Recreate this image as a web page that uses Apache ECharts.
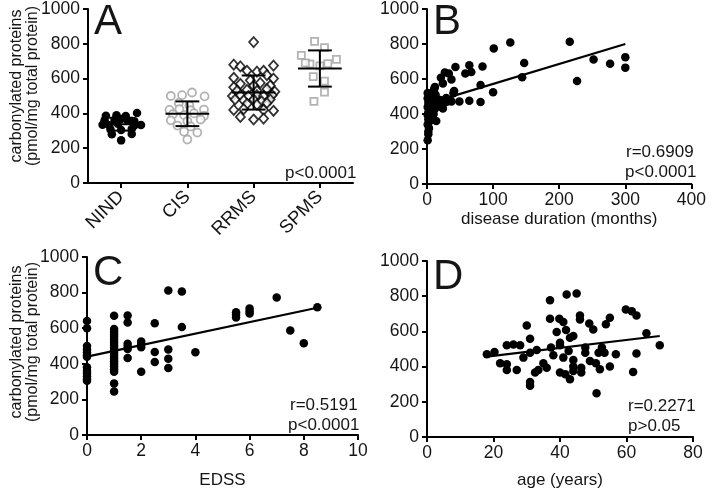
<!DOCTYPE html>
<html>
<head>
<meta charset="utf-8">
<script src="https://cdn.jsdelivr.net/npm/echarts@6/dist/echarts.min.js"></script>
<style>html,body{margin:0;padding:0;background:#fff}#c{width:709px;height:490px}</style>
</head>
<body>
<div id="c"></div>
<script>
// ---------- Panel A: groups (jitter offset in category units, value) ----------
var categoriesA = ['NIND', 'CIS', 'RRMS', 'SPMS'];
var nind = [[-0.23,387],[-0.07,390],[0.07,385],[0.24,402],[-0.25,360],[-0.1,362],[0,368],[0.1,358],[0.2,355],
  [-0.28,335],[-0.18,332],[0.2,330],[0.3,334],[-0.05,340],[-0.16,308],[0,305],[0.16,310],[-0.14,280],[0.16,282],[0,245]];
var cis = [[-0.25,500],[-0.08,505],[0.07,520],[0.26,498],[-0.13,460],[0.03,445],[-0.27,420],[-0.12,425],[0.05,418],[0.25,422],
  [-0.22,395],[-0.05,390],[0.1,400],[0.25,385],[-0.25,360],[0,355],[0.2,365],[-0.15,330],[0.05,325],[-0.05,295],[0.15,290],[0,250]];
var rrms = [[0,810],[-0.3,680],[-0.2,670],[-0.1,645],[0.05,640],[0.15,645],[0.3,675],[-0.3,605],[0.2,620],[0.3,600],[-0.05,590],
  [-0.2,570],[0.1,575],[0.25,560],[-0.3,550],[0,560],[-0.25,530],[-0.1,535],[0.05,530],[0.2,540],[0.32,525],
  [-0.32,500],[-0.2,505],[-0.08,500],[0.05,505],[0.15,500],[0.28,505],[-0.28,480],[-0.15,475],[0,480],[0.12,470],[0.25,480],
  [-0.1,455],[0.05,450],[0.2,460],[-0.3,420],[-0.15,425],[0.15,420],[0.3,415],[-0.2,380],[0,365],[0.15,370]];
var spms = [[-0.08,814],[0.07,778],[-0.28,734],[0.25,711],[-0.15,684],[0,673],[0.12,686],[-0.1,611],[0.07,586],[0.07,522],[-0.09,469],[-0.22,690]];
var groupMeans = [338, 398, 520, 658];
var groupSD = [37, 71, 98, 104];
var pTextA = 'p<0.0001';

// ---------- Panel B: disease duration (months) vs carbonylated proteins ----------
var bPoints = [[1,250],[2,285],[2,300],[3,320],[1,340],[3,355],[2,370],[4,380],[1,395],[5,400],[2,410],[6,420],[3,430],[1,440],
  [7,445],[4,455],[2,465],[8,470],[5,480],[1,490],[3,500],[6,505],[1,520],[9,515],[10,530],[12,555],[11,545],[13,510],[14,490],
  [14,360],[8,380],[10,400],[12,430],[15,470],[17,463],[18,445],[20,480],[24,431],[24,575],[21,607],[27,637],[33,631],[37,597],
  [43,669],[41,532],[29,491],[37,472],[49,472],[64,476],[58,631],[64,678],[67,640],[81,566],[81,468],[84,672],[100,524],[101,775],
  [126,809],[144,610],[147,691],[216,813],[227,588],[252,712],[277,687],[300,725],[300,665],[30,470],[35,480],[40,519],[12,470],
  [16,450],[25,460]];
var bLine = [[0,458],[300,800]];
var statsB = ['r=0.6909', 'p<0.0001'];

// ---------- Panel C: EDSS ----------
var cPoints = [[0,640],[0,600],[0,500],[0,480],[0,465],[0,450],[0,440],[0,380],[0,360],[0,345],[0,330],[0,315],[0,305],
  [1,670],[1,595],[1,580],[1,565],[1,550],[1,535],[1,520],[1,505],[1,490],[1,475],[1,460],[1,445],[1,430],[1,415],[1,400],[1,385],
  [1,370],[1,355],[1,290],[1,245],
  [1.5,672],[1.5,632],[1.5,512],[1.5,496],[1.5,483],[1.5,432],
  [2,525],[2,510],[2,493],[2,355],[2.5,628],[2.5,466],[2.5,410],[3,812],[3,480],[3,428],[3,377],[3.5,806],[3.5,607],[4,465],
  [5.5,690],[5.5,675],[5.5,660],[6,710],[6,695],[6,683],[7,772],[7.5,587],[8,515],[8.5,718]];
var cLine = [[0,440],[8.5,715]];
var statsC = ['r=0.5191', 'p<0.0001'];

// ---------- Panel D: age (years) ----------
var dPoints = [[18,470],[20.3,483],[22,419],[24,413],[24,381],[24,521],[26,526],[28,521],[27,381],[29,451],[30,634],[31,558],
  [31,479],[31,313],[31,291],[33,494],[32.5,366],[33.5,381],[35,419],[36,394],[37,777],[37,672],[37.3,508],[38,464],[39,596],
  [39.8,672],[40,536],[40,521],[40,366],[41,653],[41,451],[41.6,357],[41.8,608],[42,809],[43,564],[44,574],[42.6,489],[43,328],
  [44,438],[44,400],[44,375],[45,815],[46,690],[46,668],[46.4,394],[46.4,366],[47.6,508],[47.6,479],[48.8,645],[49,432],[50,611],
  [50.8,419],[51,249],[51.6,479],[52,385],[52.6,508],[53.4,479],[53.8,640],[55,677],[55,400],[56.8,470],[59.8,725],[61.6,715],
  [63,690],[62,370],[63,475],[66,589],[70,521]];
var dLine = [[18,457],[70,574]];
var statsD = ['r=0.2271', 'p>0.05'];

var yTicks = {min: 0, max: 1000, interval: 200};
var yName = 'carbonylated proteins\n(pmol/mg total protein)';

// ---------- build ----------
var FONT = '"Liberation Sans", Arial, sans-serif';
var TXT = '#151515';
function withGroup(arr, gi) { return arr.map(function (p) { return [gi + 1 + p[0], p[1]]; }); }
var axisLine = {show: true, onZero: false, lineStyle: {color: '#000', width: 2}};
var axisTick = {show: true, length: 5, lineStyle: {color: '#000', width: 2}};
function plain(v) { return String(v); }
function yAx(grid) {
  return {type: 'value', gridIndex: grid, min: yTicks.min, max: yTicks.max, interval: yTicks.interval,
    splitLine: {show: false}, axisLine: axisLine, axisTick: axisTick,
    axisLabel: {fontSize: 17.5, color: TXT, fontFamily: FONT, margin: 8, formatter: plain}};
}
function xVal(grid, max, interval, name, gap) {
  return {type: 'value', gridIndex: grid, min: 0, max: max, interval: interval, splitLine: {show: false},
    axisLine: axisLine, axisTick: axisTick, name: name, nameLocation: 'middle', nameGap: gap,
    nameTextStyle: {fontSize: 17, color: TXT, fontFamily: FONT},
    axisLabel: {fontSize: 17.5, color: TXT, fontFamily: FONT, margin: 7, formatter: plain}};
}
function scat(data, xi, yi, extra) {
  var s = {type: 'scatter', data: data, xAxisIndex: xi, yAxisIndex: yi, symbol: 'circle', symbolSize: 8.5,
    itemStyle: {color: '#000', opacity: 1}, silent: true, z: 2};
  for (var k in extra) s[k] = extra[k];
  return s;
}
function regLine(data, xi, yi) {
  return {type: 'line', data: data, xAxisIndex: xi, yAxisIndex: yi, symbol: 'none',
    lineStyle: {color: '#000', width: 2.2}, silent: true, z: 3};
}
var errData = groupMeans.map(function (m, i) { return [i + 1, m, groupSD[i]]; });

function txt(x, y, s, size, align) {
  return {type: 'text', x: x, y: y, silent: true,
    style: {text: s, fontSize: size, fontFamily: FONT, fill: TXT, textAlign: align || 'left', textVerticalAlign: 'middle'}};
}

var option = {
  animation: false,
  backgroundColor: '#fff',
  grid: [
    {left: 88, right: 356, top: 7, bottom: 307},
    {left: 427, right: 14, top: 6, bottom: 306},
    {left: 87, right: 351, top: 257, bottom: 52},
    {left: 427, right: 16, top: 261, bottom: 52}
  ],
  xAxis: [
    {type: 'category', gridIndex: 0, data: categoriesA, boundaryGap: true, axisLine: axisLine,
      axisTick: {show: true, length: 5, alignWithLabel: true, lineStyle: {color: '#000', width: 2}},
      axisLabel: {rotate: 45, fontSize: 18.5, color: TXT, fontFamily: FONT, margin: 11}},
    {type: 'value', gridIndex: 0, min: 0.5, max: 4.5, show: false},
    xVal(1, 400, 100, 'disease duration (months)', 27),
    xVal(2, 10, 2, 'EDSS', 37),
    xVal(3, 80, 20, 'age (years)', 35)
  ],
  yAxis: [yAx(0), yAx(1), yAx(2), yAx(3)],
  series: [
    scat(withGroup(nind, 0), 1, 0, {}),
    scat(withGroup(cis, 1), 1, 0, {itemStyle: {color: '#fff', borderColor: '#a0a0a0', borderWidth: 1.8}, symbolSize: 8}),
    scat(withGroup(rrms, 2), 1, 0, {symbol: 'diamond', symbolSize: [9, 10], itemStyle: {color: '#fff', borderColor: '#000', borderWidth: 1.8}}),
    scat(withGroup(spms, 3), 1, 0, {symbol: 'rect', symbolSize: 7, itemStyle: {color: '#fff', borderColor: '#a0a0a0', borderWidth: 1.8}}),
    {type: 'custom', xAxisIndex: 1, yAxisIndex: 0, data: errData, silent: true, z: 4,
      renderItem: function (params, api) {
        var x = api.value(0), m = api.value(1), sd = api.value(2);
        var a = api.coord([x - 0.33, m]), b = api.coord([x + 0.33, m]);
        var t = api.coord([x, m + sd]), u = api.coord([x, m - sd]);
        var tl = api.coord([x - 0.18, m + sd]), tr = api.coord([x + 0.18, m + sd]);
        var bl = api.coord([x - 0.18, m - sd]), br = api.coord([x + 0.18, m - sd]);
        var st = {stroke: '#000', lineWidth: 2};
        return {type: 'group', children: [
          {type: 'line', shape: {x1: a[0], y1: a[1], x2: b[0], y2: b[1]}, style: st},
          {type: 'line', shape: {x1: t[0], y1: t[1], x2: u[0], y2: u[1]}, style: st},
          {type: 'line', shape: {x1: tl[0], y1: tl[1], x2: tr[0], y2: tr[1]}, style: st},
          {type: 'line', shape: {x1: bl[0], y1: bl[1], x2: br[0], y2: br[1]}, style: st}
        ]};
      }},
    scat(bPoints, 2, 1, {}),
    regLine(bLine, 2, 1),
    scat(cPoints, 3, 2, {}),
    regLine(cLine, 3, 2),
    scat(dPoints, 4, 3, {}),
    regLine(dLine, 4, 3)
  ],
  graphic: [
    txt(94, 22, 'A', 42), txt(433, 22, 'B', 42), txt(93, 273, 'C', 42), txt(433, 277, 'D', 42),
    txt(285, 173, pTextA, 17),
    txt(626, 152, statsB[0], 17), txt(625, 172, statsB[1], 17),
    txt(290, 405, statsC[0], 17), txt(288, 425, statsC[1], 17),
    txt(628, 406, statsD[0], 17), txt(628, 426, statsD[1], 17),
    {type: 'text', x: 25, y: 86, rotation: Math.PI / 2, silent: true,
      style: {text: yName, fontSize: 16, lineHeight: 16, fontFamily: FONT, fill: TXT, textAlign: 'center', textVerticalAlign: 'middle'}},
    {type: 'text', x: 25, y: 342, rotation: Math.PI / 2, silent: true,
      style: {text: yName, fontSize: 16, lineHeight: 16, fontFamily: FONT, fill: TXT, textAlign: 'center', textVerticalAlign: 'middle'}}
  ]
};
var chart = echarts.init(document.getElementById('c'), null, {renderer: 'canvas'});
chart.setOption(option);
</script>
</body>
</html>
